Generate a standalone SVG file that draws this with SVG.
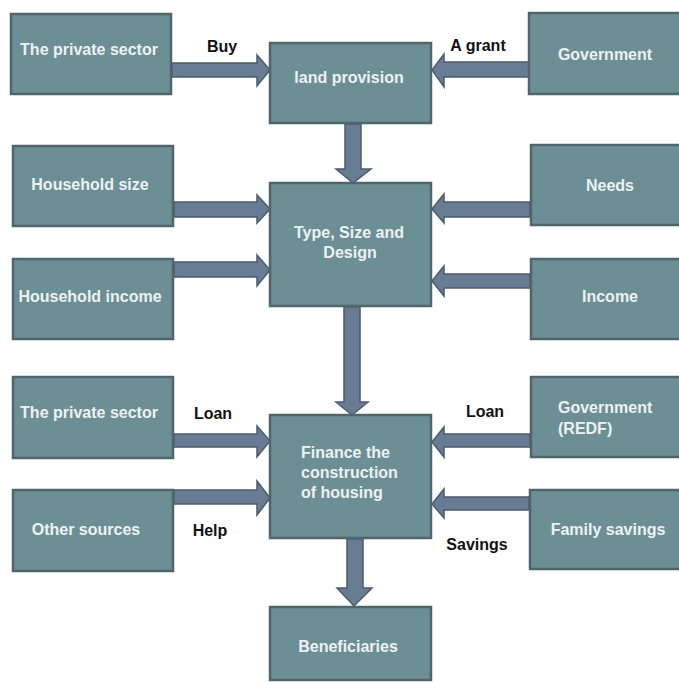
<svg xmlns="http://www.w3.org/2000/svg" width="679" height="682" viewBox="0 0 679 682">
<style>
.box{fill:#6b8f95;stroke:#51666c;stroke-width:2.5}
.t{font-family:"Liberation Sans",Arial,sans-serif;font-weight:bold;font-size:16px;fill:#eef2f3}
.c{text-anchor:middle}
.lbl{font-family:"Liberation Sans",Arial,sans-serif;font-weight:bold;font-size:16px;fill:#111;text-anchor:middle}
.arr{fill:#687c94;stroke:#4c5b6e;stroke-width:1.5;stroke-linejoin:miter}
</style>
<rect width="679" height="682" fill="#ffffff"/>
<g id="connectors">
<!-- left arrows pointing right -->
<polygon class="arr" points="172,63 257,63 257,55 270,70 257,86 257,77 172,77"/>
<polygon class="arr" points="174,202 257,202 257,195 270,209 257,223 257,217 174,217"/>
<polygon class="arr" points="174,262 257,262 257,255 270,270 257,286 257,277 174,277"/>
<polygon class="arr" points="174,434 257,434 257,426 270,441 257,457 257,447 174,447"/>
<polygon class="arr" points="174,490 257,490 257,481 270,498 257,515 257,504 174,504"/>
<!-- right arrows pointing left -->
<polygon class="arr" points="529,62 444,62 444,54 432,70 444,87 444,77 529,77"/>
<polygon class="arr" points="530,202 444,202 444,194 432,209 444,223 444,217 530,217"/>
<polygon class="arr" points="530,274 444,274 444,266 432,281 444,296 444,288 530,288"/>
<polygon class="arr" points="530,434 444,434 444,427 432,442 444,457 444,447 530,447"/>
<polygon class="arr" points="529,497 444,497 444,489 432,504 444,518 444,510 529,510"/>
<!-- down arrows -->
<polygon class="arr" points="345,124 361,124 361,169 371,169 353,183 336,169 345,169"/>
<polygon class="arr" points="344,307 360,307 360,402 368,402 352,415 336,402 344,402"/>
<polygon class="arr" points="347,539 363,539 363,588 372,588 354,606 337,588 347,588"/>
</g>
<g id="private-sector-1"><rect class="box" x="11" y="14" width="160" height="80"/><text class="t c" x="89" y="55">The private sector</text></g>
<g id="land-provision"><rect class="box" x="270" y="43" width="161" height="80"/><text class="t c" x="349" y="83">land provision</text></g>
<g id="government"><rect class="box" x="529" y="13" width="160" height="81"/><text class="t c" x="605" y="60">Government</text></g>
<g id="household-size"><rect class="box" x="13" y="146" width="160" height="80"/><text class="t c" x="90" y="190">Household size</text></g>
<g id="household-income"><rect class="box" x="13" y="259" width="160" height="80"/><text class="t c" x="90" y="302">Household income</text></g>
<g id="type-size-design"><rect class="box" x="270" y="183" width="161" height="123"/><text class="t c" x="349" y="238">Type, Size and</text><text class="t c" x="350" y="258">Design</text></g>
<g id="needs"><rect class="box" x="531" y="145" width="160" height="80"/><text class="t c" x="610" y="191">Needs</text></g>
<g id="income"><rect class="box" x="531" y="259" width="160" height="80"/><text class="t c" x="610" y="302">Income</text></g>
<g id="private-sector-2"><rect class="box" x="13" y="377" width="160" height="81"/><text class="t c" x="89" y="418">The private sector</text></g>
<g id="other-sources"><rect class="box" x="13" y="490" width="160" height="81"/><text class="t c" x="86" y="535">Other sources</text></g>
<g id="finance"><rect class="box" x="270" y="415" width="161" height="123"/><text class="t" x="301" y="458">Finance the</text><text class="t" x="301" y="478">construction</text><text class="t" x="301" y="498">of housing</text></g>
<g id="government-redf"><rect class="box" x="531" y="377" width="160" height="80"/><text class="t" x="558" y="413">Government</text><text class="t" x="558" y="434">(REDF)</text></g>
<g id="family-savings"><rect class="box" x="530" y="490" width="160" height="79"/><text class="t c" x="608" y="535">Family savings</text></g>
<g id="beneficiaries"><rect class="box" x="270" y="607" width="161" height="73"/><text class="t c" x="348" y="652">Beneficiaries</text></g>
<g id="labels">
<text class="lbl" x="222" y="52">Buy</text>
<text class="lbl" x="478" y="51">A grant</text>
<text class="lbl" x="213" y="419">Loan</text>
<text class="lbl" x="210" y="536">Help</text>
<text class="lbl" x="485" y="417">Loan</text>
<text class="lbl" x="477" y="550">Savings</text>
</g>
</svg>
